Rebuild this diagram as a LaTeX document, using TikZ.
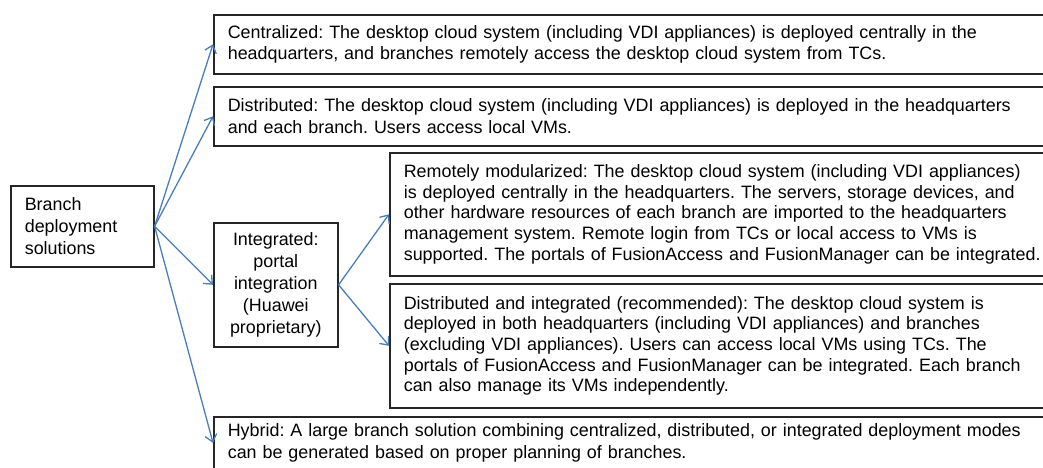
\documentclass[tikz,border=0pt]{standalone}
\usepackage{fontspec}
\setmainfont{Liberation Sans}
\usetikzlibrary{arrows.meta}
\definecolor{arrowblue}{HTML}{4A7EBB}
\frenchspacing
\tikzset{
  box/.style={draw=black!85, line width=1.6pt, rectangle, anchor=north west,
    align=left, inner xsep=14pt, inner ysep=0pt,
    font=\fontsize{17.9}{21.8}\selectfont},
  rbox/.style={box, font=\fontsize{17.9}{20.6}\selectfont},
  conn/.style={draw=arrowblue, line width=1.3pt, -{Straight Barb[length=7pt,width=12pt]}}
}
\begin{document}
\begin{tikzpicture}[x=1pt,y=-1pt]
\useasboundingbox (0,0) rectangle (1043,467);
\clip (0,0) rectangle (1043,467);
\node[box, text width=115pt, minimum height=81pt, inner xsep=14pt] (branch) at (10,185)
  {Branch\\deployment\\solutions};
\node[box, align=center, text width=100pt, inner xsep=12pt, minimum height=124pt] (integ) at (213,222)
  {Integrated:\\portal\\integration\\(Huawei\\proprietary)};
\node[box, text width=820pt, minimum height=59pt] (cent) at (213,14)
  {Centralized: The desktop cloud system (including VDI appliances) is deployed centrally in the\\
   headquarters, and branches remotely access the desktop cloud system from TCs.};
\node[box, text width=820pt, minimum height=59pt] (dist) at (213,86)
  {Distributed: The desktop cloud system (including VDI appliances) is deployed in the headquarters\\
   and each branch. Users access local VMs.};
\node[rbox, text width=650pt, minimum height=123pt] (remote) at (389,152)
  {Remotely modularized: The desktop cloud system (including VDI appliances)\\
   is deployed centrally in the headquarters. The servers, storage devices, and\\
   other hardware resources of each branch are imported to the headquarters\\
   management system. Remote login from TCs or local access to VMs is\\
   supported. The portals of FusionAccess and FusionManager can be integrated.};
\node[rbox, text width=650pt, minimum height=124pt] (distint) at (389,283)
  {Distributed and integrated (recommended): The desktop cloud system is\\
   deployed in both headquarters (including VDI appliances) and branches\\
   (excluding VDI appliances). Users can access local VMs using TCs. The\\
   portals of FusionAccess and FusionManager can be integrated. Each branch\\
   can also manage its VMs independently.};
\node[box, text width=820pt, minimum height=52pt, anchor=north west] (hybrid) at (213,416)
  {Hybrid: A large branch solution combining centralized, distributed, or integrated deployment modes\\
   can be generated based on proper planning of branches.};
\draw[conn] (branch.east) -- (cent.west);
\draw[conn] (branch.east) -- (dist.west);
\draw[conn] (branch.east) -- (integ.west);
\draw[conn] (branch.east) -- (hybrid.west);
\draw[conn] (integ.east) -- (remote.west);
\draw[conn] (integ.east) -- (distint.west);
\end{tikzpicture}
\end{document}
